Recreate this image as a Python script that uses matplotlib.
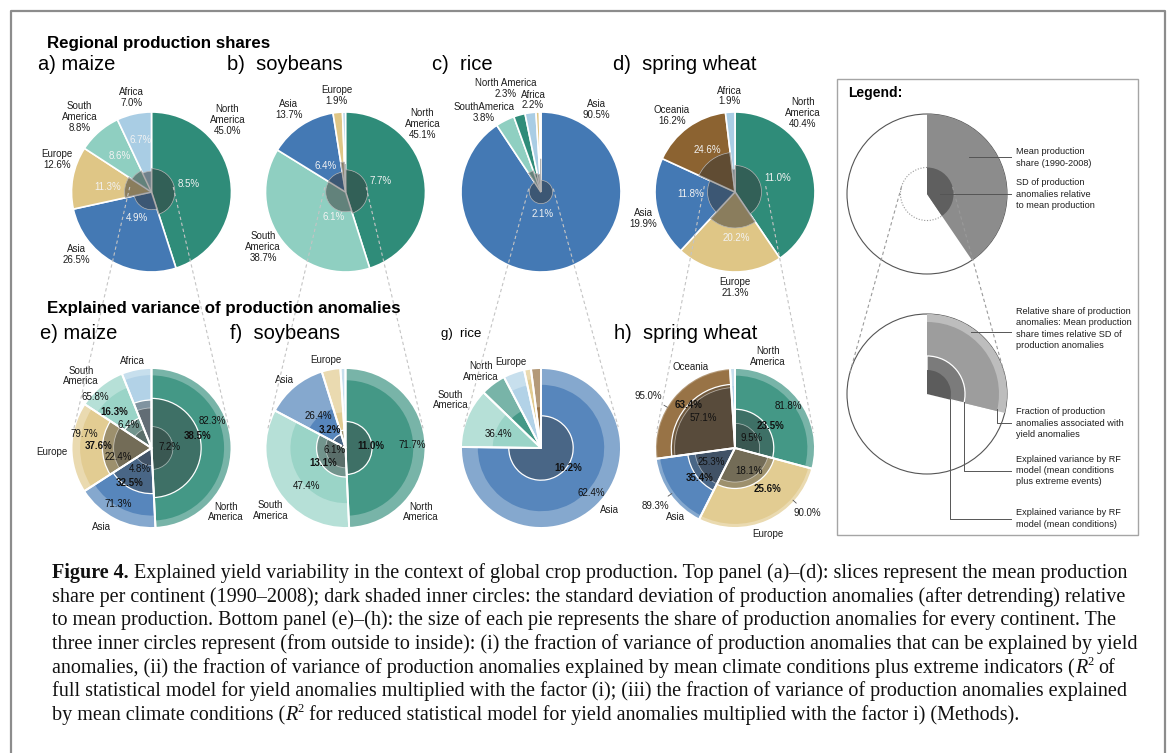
import numpy as np
import matplotlib
matplotlib.use("Agg")
import matplotlib.pyplot as plt
from matplotlib.colors import to_rgb
from matplotlib.patches import Circle, Rectangle

plt.rcParams['font.family'] = ['Liberation Sans', 'DejaVu Sans']

# ---------------- data ----------------
region_colors = {"North America": "#2f8c79", "South America": "#8fcfc1",
                 "Asia": "#4479b4", "Europe": "#dfc686",
                 "Africa": "#a9cde4", "Oceania": "#8c6331"}

# share = mean production share (%), sd = SD of anomalies relative to mean (%)
# yld = fraction associated with yield anomalies, full = RF (mean + extremes),
# mean = RF (mean conditions) -- all in %
maize_regions = ["North America", "Asia", "Europe", "South America", "Africa"]
maize_share = [45.0, 26.5, 12.6, 8.8, 7.0]
maize_sd = [8.5, 4.9, 11.3, 8.6, 6.7]
maize_yld = [82.3, 71.3, 79.7, 65.8, 83.0]
maize_full = [38.5, 32.5, 37.6, 16.3, 36.0]
maize_mean = [7.2, 4.8, 22.4, 6.4, 25.0]

soy_regions = ["North America", "South America", "Asia", "Europe", "Africa"]
soy_share = [45.1, 38.7, 13.7, 1.9, 0.6]
soy_sd = [7.7, 6.1, 6.4, 14.0, 12.0]
soy_yld = [71.7, 47.4, 26.4, 20.0, 30.0]
soy_full = [11.0, 13.1, 3.2, 5.0, 0.0]
soy_mean = [0.0, 6.1, 0.0, 0.0, 0.0]

rice_regions = ["Asia", "South America", "North America", "Africa", "Europe", "Oceania"]
rice_share = [90.5, 3.8, 2.3, 2.2, 0.7, 0.3]
rice_sd = [2.1, 8.0, 5.6, 4.9, 5.0, 17.0]
rice_yld = [62.4, 36.4, 27.0, 64.0, 75.0, 26.0]
rice_full = [16.2, 0.0, 0.0, 0.0, 0.0, 0.0]
rice_mean = [0.0, 0.0, 0.0, 0.0, 0.0, 0.0]

wheat_regions = ["North America", "Europe", "Asia", "Oceania", "Africa"]
wheat_share = [40.4, 21.3, 19.9, 16.2, 1.9]
wheat_sd = [11.0, 20.2, 11.8, 24.6, 8.0]
wheat_yld = [81.8, 90.0, 89.3, 95.0, 60.0]
wheat_full = [23.5, 25.6, 35.4, 63.4, 0.0]
wheat_mean = [9.5, 18.1, 25.3, 57.1, 0.0]

# legend example pies
legend_share = 40.5
legend_sd = 11.0
legend_anom_share = 28.8
legend_yld, legend_full, legend_mean = 81.0, 22.6, 9.0

# caption lines as runs of (text, style): n normal, b bold, i italic, s superscript, " " space
caption_lines = [
    [("Figure 4.", "b"), (" ", "n"), ("Explained yield variability in the context of global crop production. Top panel (a)–(d): slices represent the mean production", "n")],
    [("share per continent (1990–2008); dark shaded inner circles: the standard deviation of production anomalies (after detrending) relative", "n")],
    [("to mean production. Bottom panel (e)–(h): the size of each pie represents the share of production anomalies for every continent. The", "n")],
    [("three inner circles represent (from outside to inside): (i) the fraction of variance of production anomalies that can be explained by yield", "n")],
    [("anomalies, (ii) the fraction of variance of production anomalies explained by mean climate conditions plus extreme indicators (", "n"),
     ("R", "i"), ("2", "s"), (" ", "n"), ("of", "n")],
    [("full statistical model for yield anomalies multiplied with the factor (i); (iii) the fraction of variance of production anomalies explained", "n")],
    [("by mean climate conditions (", "n"), ("R", "i"), ("2", "s"), (" ", "n"),
     ("for reduced statistical model for yield anomalies multiplied with the factor i) (Methods).", "n")],
]

# ---------------- label placement (pie radius units) ----------------
top_labels = {
    "maize": (["North\nAmerica", "Asia", "Europe", "South\nAmerica", "Africa"],
              [(0.95, 0.90), (-0.94, -0.78), (-1.18, 0.41), (-0.90, 0.94), (-0.25, 1.18)],
              [(0.46, 0.10), (-0.18, -0.33), (-0.55, 0.06), (-0.40, 0.45), (-0.14, 0.65)]),
    "soy": (["North\nAmerica", "South\nAmerica", "Asia", "Europe", None],
            [(0.96, 0.85), (-1.03, -0.69), (-0.71, 1.03), (-0.11, 1.21), None],
            [(0.44, 0.14), (-0.15, -0.31), (-0.25, 0.33), None, None]),
    "rice": (["Asia", "SouthAmerica", "North America", "Africa", None, None],
             [(0.69, 1.03), (-0.71, 0.99), (-0.44, 1.29), (-0.10, 1.15), None, None],
             [(0.02, -0.27), None, None, None, None, None]),
    "wheat": (["North\nAmerica", "Europe", "Asia", "Oceania", "Africa"],
              [(0.85, 0.99), (0.0, -1.19), (-1.15, -0.33), (-0.79, 0.96), (-0.07, 1.20)],
              [(0.53, 0.18), (0.02, -0.58), (-0.55, -0.03), (-0.35, 0.53), None]),
}
bottom_labels = {
    "maize": ([("North\nAmerica", (0.93, -0.80)), ("Asia", (-0.63, -0.99)), ("Europe", (-1.24, -0.05)),
               ("South\nAmerica", (-0.88, 0.90)), ("Africa", (-0.24, 1.09))],
              [[(0.76, 0.34), (0.58, 0.15), (0.22, 0.01)],
               [(-0.42, -0.70), (-0.27, -0.44), (-0.15, -0.26)],
               [(-0.84, 0.17), (-0.66, 0.03), (-0.42, -0.11)],
               [(-0.70, 0.64), (-0.46, 0.45), (-0.29, 0.29)], None]),
    "soy": ([("North\nAmerica", (0.94, -0.80)), ("South\nAmerica", (-0.94, -0.78)), ("Asia", (-0.76, 0.85)),
             ("Europe", (-0.24, 1.10)), None],
            [[(0.83, 0.04), (0.32, 0.03), None],
             [(-0.49, -0.48), (-0.28, -0.19), (-0.14, -0.03)],
             [(-0.34, 0.40), (-0.20, 0.22), None], None, None]),
    "rice": ([("Asia", (0.86, -0.78)), ("South\nAmerica", (-1.13, 0.60)), ("North\nAmerica", (-0.75, 0.96)),
              None, ("Europe", (-0.38, 1.08)), None],
             [[(0.63, -0.56), (0.34, -0.25), None], [(-0.53, 0.18), None, None], None, None, None, None]),
    "wheat": ([("North\nAmerica", (0.41, 1.14)), ("Europe", (0.41, -1.08)), ("Asia", (-0.74, -0.86)),
               ("Oceania", (-0.55, 1.01)), None],
              [[(0.67, 0.53), (0.44, 0.27), (0.21, 0.12)],
               [(0.90, -0.81), (0.40, -0.51), (0.18, -0.29)],
               [(-1.00, -0.72), (-0.44, -0.37), (-0.29, -0.18)],
               [(-1.08, 0.65), (-0.58, 0.54), (-0.40, 0.38)], None]),
}

crops = [
    ("maize", maize_regions, maize_share, maize_sd, maize_yld, maize_full, maize_mean),
    ("soy", soy_regions, soy_share, soy_sd, soy_yld, soy_full, soy_mean),
    ("rice", rice_regions, rice_share, rice_sd, rice_yld, rice_full, rice_mean),
    ("wheat", wheat_regions, wheat_share, wheat_sd, wheat_yld, wheat_full, wheat_mean),
]

# ---------------- layout ----------------
W, H = 1170, 753
R = 80                      # pie radius in pixels
L = 1.6                     # half-width of pie axes in radius units
LINE = 0.135                # line step of pie labels in radius units
pie_x = [151.5, 345.5, 541, 735]
top_y, bot_y = 192, 448
TOP_SHADE = (0.21, 0.21, 0.21, 0.5)
BOT_SHADE = (0.21, 0.21, 0.21, 0.4)
TXT = "#1e1e1e"
PIE_KW = dict(startangle=90, counterclock=False, radius=1.0)

fig = plt.figure(figsize=(W / 100, H / 100), dpi=100)


def lighten(c, f):
    r, g, b = to_rgb(c)
    return (r + (1 - r) * f, g + (1 - g) * f, b + (1 - b) * f)


def pie_axes(cx, cy):
    s = 2 * L * R
    return fig.add_axes([(cx - s / 2) / W, 1 - (cy + s / 2) / H, s / W, s / H])


def finish(ax):
    ax.set_xlim(-L, L)
    ax.set_ylim(-L, L)
    ax.set_aspect("equal")
    ax.axis("off")


def block(ax, xy, text, **kw):
    # multi-line label written line by line, block centred on xy
    lines = text.split("\n")
    k = len(lines)
    for i, s in enumerate(lines):
        ax.text(xy[0], xy[1] + ((k - 1) / 2 - i) * LINE, s, ha="center", va="center",
                fontsize=7, color=TXT, **kw)


def draw_top(ax, key, regions, share, sd):
    cols = [region_colors[r] for r in regions]
    ax.pie(share, colors=cols, wedgeprops=dict(edgecolor="white", linewidth=1.2), **PIE_KW)
    inner, _ = ax.pie(share, colors=[TOP_SHADE] * len(share),
                      wedgeprops=dict(edgecolor="#b5b5b5", linewidth=0.5), **PIE_KW)
    for w, s in zip(inner, sd):
        w.set_radius(np.sqrt(s / 100))
    names, name_xy, sd_xy = top_labels[key]
    for name, xy, s in zip(names, name_xy, share):
        if xy is not None:
            block(ax, xy, f"{name}\n{s:.1f}%")
    for xy, s in zip(sd_xy, sd):
        if xy is not None:
            ax.text(*xy, f"{s:.1f}%", ha="center", va="center", fontsize=7, color="#f2f2f2")
    finish(ax)


def draw_bottom(ax, key, regions, share, sd, yld, full, mean):
    anom = np.array(share) * np.array(sd)
    cols = [region_colors[r] for r in regions]
    n = len(cols)
    ax.pie(anom, colors=[lighten(c, 0.35) for c in cols], wedgeprops=dict(linewidth=0), **PIE_KW)
    layers = [(yld, [lighten(c, 0.1) for c in cols], dict(linewidth=0)),
              (full, [BOT_SHADE] * n, dict(edgecolor="white", linewidth=0.9)),
              (mean, [BOT_SHADE] * n, dict(edgecolor=(1, 1, 1, 0.5), linewidth=0.6))]
    for frac, fc, wp in layers:
        ws, _ = ax.pie(anom, colors=fc, wedgeprops=wp, **PIE_KW)
        for w, f in zip(ws, frac):
            if f > 0:
                w.set_radius(np.sqrt(f / 100))
            else:
                w.set_visible(False)
    ax.pie(anom, colors=["none"] * n, wedgeprops=dict(edgecolor="white", linewidth=1.4), **PIE_KW)

    names, pct_xy = bottom_labels[key]
    for nm in names:
        if nm is not None:
            block(ax, nm[1], nm[0])
    for xy3, vals in zip(pct_xy, zip(yld, full, mean)):
        if xy3 is None:
            continue
        for k, (xy, v) in enumerate(zip(xy3, vals)):
            if xy is None:
                continue
            weight = "bold" if k == 1 else "normal"
            if np.hypot(*xy) > 1.0:
                ang = np.arctan2(xy[1], xy[0])
                rr = (1 + np.sqrt(vals[0] / 100)) / 2
                ax.annotate(f"{v:.1f}%", xy=(rr * np.cos(ang), rr * np.sin(ang)), xytext=xy,
                            ha="center", va="center", fontsize=7, color=TXT,
                            arrowprops=dict(arrowstyle="-", color="#555555", lw=0.6,
                                            shrinkA=2, shrinkB=0))
            else:
                ax.text(*xy, f"{v:.1f}%", ha="center", va="center", fontsize=7,
                        color="#111111", fontweight=weight)
    finish(ax)


for x, (key, regions, share, sd, yld, full, mean) in zip(pie_x, crops):
    draw_top(pie_axes(x, top_y), key, regions, share, sd)
    draw_bottom(pie_axes(x, bot_y), key, regions, share, sd, yld, full, mean)

# ---------------- legend pies ----------------
lg_c = (927, 194)
lg_c2 = (927, 394)
lt = pie_axes(*lg_c)
lt.add_patch(Circle((0, 0), 1, facecolor="white", edgecolor="#555555", lw=0.8, zorder=0))
lt.add_patch(Circle((0, 0), np.sqrt(legend_sd / 100), fill=False, ls=(0, (1, 1.5)),
                    ec="#999999", lw=0.8, zorder=0.5))
lt.pie([legend_share, 100 - legend_share], colors=["#8c8c8c", "none"],
       wedgeprops=dict(linewidth=0), **PIE_KW)
wi, _ = lt.pie([legend_share, 100 - legend_share], colors=["#5f5f5f", "none"],
               wedgeprops=dict(linewidth=0), **PIE_KW)
wi[0].set_radius(np.sqrt(legend_sd / 100))
finish(lt)

lb = pie_axes(*lg_c2)
lb.add_patch(Circle((0, 0), 1, facecolor="white", edgecolor="#555555", lw=0.8, zorder=0))
lvals = [legend_anom_share, 100 - legend_anom_share]
lb.pie(lvals, colors=["#bdbdbd", "none"], wedgeprops=dict(linewidth=0), **PIE_KW)
for frac, col, wp in [(legend_yld, "#9d9d9d", dict(linewidth=0)),
                      (legend_full, "#7b7b7b", dict(edgecolor="white", linewidth=0.9)),
                      (legend_mean, "#5c5c5c", dict(linewidth=0))]:
    ws, _ = lb.pie(lvals, colors=[col, "none"], wedgeprops=wp, **PIE_KW)
    ws[0].set_radius(np.sqrt(frac / 100))
    ws[1].set_visible(False)
finish(lb)

# ---------------- overlay: frame, titles, lines, caption ----------------
ov = fig.add_axes([0, 0, 1, 1])
ov.set_xlim(0, W)
ov.set_ylim(H, 0)
ov.axis("off")

ov.plot([11, 11, 1165, 1165], [H + 5, 11, 11, H + 5], color="#8c8c8c", lw=1.6, clip_on=False)
ov.add_patch(Rectangle((837, 79), 301, 456, fill=False, ec="#a5a5a5", lw=1.0))


def tangent(c1, r1, c2, r2, side):
    s = (r2 - r1) / (c2[1] - c1[1])
    nx, ny = side * np.sqrt(1 - s * s), -s
    return ([c1[0] + r1 * nx, c2[0] + r2 * nx], [c1[1] + r1 * ny, c2[1] + r2 * ny])


dash = dict(color="#c4c4c4", lw=0.8, ls=(0, (3, 2.5)))
for x, (key, regions, share, sd, *_rest) in zip(pie_x, crops):
    wsd = np.sum(np.array(share) * np.array(sd)) / np.sum(share) / 100
    for side in (-1, 1):
        xs, ys = tangent((x, top_y), R * np.sqrt(wsd), (x, bot_y), R, side)
        ov.plot(xs, ys, **dash)
for side in (-1, 1):
    xs, ys = tangent(lg_c, R * np.sqrt(legend_sd / 100), lg_c2, R, side)
    ov.plot(xs, ys, color="#9a9a9a", lw=0.8, ls=(0, (3, 2.5)))

ov.text(47, 43, "Regional production shares", fontsize=12.2, fontweight="bold", va="center")
ov.text(47, 308, "Explained variance of production anomalies", fontsize=12.2,
        fontweight="bold", va="center")
for x, y, s, fs in [(38, 64, "a) maize", 14.5), (227, 64, "b)  soybeans", 14.5),
                    (432, 64, "c)  rice", 14.5), (613, 64, "d)  spring wheat", 14.5),
                    (40, 333, "e) maize", 14.5), (230, 333, "f)  soybeans", 14.5),
                    (441, 334, "g)  rice", 9.5), (614, 333, "h)  spring wheat", 14.5)]:
    ov.text(x, y, s, fontsize=fs, va="center")

# legend texts and leader lines
ov.text(848, 93, "Legend:", fontsize=10, fontweight="bold", va="center")
leg_txt = [(157.5, "Mean production\nshare (1990-2008)"),
           (194, "SD of production\nanomalies relative\nto mean production"),
           (328.5, "Relative share of production\nanomalies: Mean production\nshare times relative SD of\nproduction anomalies"),
           (423, "Fraction of production\nanomalies associated with\nyield anomalies"),
           (470.5, "Explained variance by RF\nmodel (mean conditions\nplus extreme events)"),
           (518.5, "Explained variance by RF\nmodel (mean conditions)")]
for y, s in leg_txt:
    ov.text(1016, y, s, fontsize=6.6, va="center", linespacing=1.3, color=TXT)

lead = dict(color="#555555", lw=0.7)
xe = 1011


def polar(c, r, deg):
    return c[0] + r * np.cos(np.radians(deg)), c[1] - r * np.sin(np.radians(deg))


p = polar(lg_c, 0.7 * R, 41)
ov.plot([p[0], xe], [p[1], p[1]], **lead)
p = polar(lg_c, 0.16 * R, 0)
ov.plot([p[0], xe], [p[1], p[1]], **lead)
p = polar(lg_c2, R * (1 + np.sqrt(legend_yld / 100)) / 2, 55)
ov.plot([p[0], xe], [p[1], p[1]], **lead)
end_ang = 90 - 3.6 * legend_anom_share
for frac, ylev in [(legend_yld, 423), (legend_full, 470.5), (legend_mean, 518.5)]:
    p = polar(lg_c2, R * np.sqrt(frac / 100), end_ang + 1.5)
    ov.plot([p[0], p[0], xe], [p[1], ylev, ylev], **lead)

# ---------------- caption ----------------
renderer = fig.canvas.get_renderer()
SERIF = "Liberation Serif"
cap_y = [578, 602, 625, 649, 673, 696, 720]
cap_end = [1127, 1149, 1116, 1149, 1124, 1127, 947]


def width(s, size, **kw):
    t = ov.text(0, 0, s, fontsize=size, family=SERIF, **kw)
    w = t.get_window_extent(renderer=renderer).width
    t.remove()
    return w


# one common size, fitted to the plain single-run lines
sizes = [14 * (xe_ - 52) / width(runs[0][0], 14)
         for runs, xe_ in zip(caption_lines, cap_end) if len(runs) == 1]
cap_size = float(np.mean(sizes))
space_w = width("x x", cap_size) - width("xx", cap_size)

for runs, y in zip(caption_lines, cap_y):
    x = 52
    for s, st in runs:
        if s == " ":
            x += space_w
            continue
        kw = dict(fontsize=cap_size)
        yy = y
        if st == "b":
            kw["fontweight"] = "bold"
        elif st == "i":
            kw["fontstyle"] = "italic"
        elif st == "s":
            kw["fontsize"] = cap_size * 0.62
            yy = y - cap_size * 0.55
        t = ov.text(x, yy, s, family=SERIF, va="baseline", color="#111111", **kw)
        x += t.get_window_extent(renderer=renderer).width

fig.savefig("out.png", dpi=100)
